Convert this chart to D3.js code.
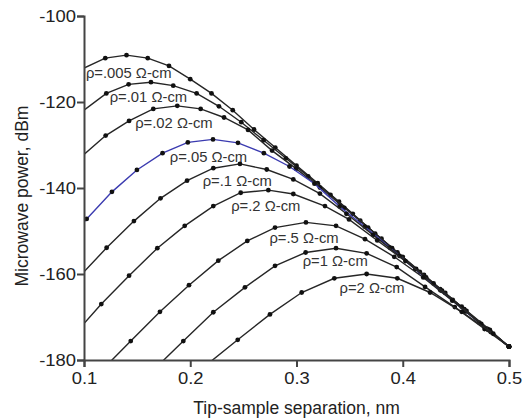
<!DOCTYPE html>
<html>
<head>
<meta charset="utf-8">
<script src="https://cdn.jsdelivr.net/npm/d3@7"></script>
<style>
  body { margin: 0; background: #fff; }
  svg { font-family: "Liberation Sans", Arial, sans-serif; display: block; }
</style>
</head>
<body>
<div id="chart"></div>
<script>
// ── Data ─────────────────────────────────────────────────────────────────
const xTicks = [0.1, 0.2, 0.3, 0.4, 0.5];
const xMinorTicks = [0.15, 0.25, 0.35, 0.45];
const yTicks = [-180, -160, -140, -120, -100];
const yMinorTicks = [-175, -170, -165, -155, -150, -145, -135, -130, -125, -115, -110, -105];

const curveLabels = [
  "ρ=.005 Ω-cm", "ρ=.01 Ω-cm", "ρ=.02 Ω-cm", "ρ=.05 Ω-cm", "ρ=.1 Ω-cm",
  "ρ=.2 Ω-cm", "ρ=.5 Ω-cm", "ρ=1 Ω-cm", "ρ=2 Ω-cm",
];

const x005 = [0.100, 0.120, 0.140, 0.160, 0.180, 0.200, 0.220, 0.240, 0.260, 0.280, 0.300, 0.320, 0.340, 0.360, 0.380, 0.400, 0.420, 0.440, 0.460, 0.480, 0.500];
const y005 = [-112.1, -109.8, -109.1, -109.8, -111.6, -114.7, -118.0, -121.9, -126.4, -130.6, -134.8, -138.9, -143.2, -147.6, -151.8, -156.0, -160.2, -164.4, -168.6, -172.8, -176.9];

const x01 = [0.100, 0.121, 0.142, 0.163, 0.184, 0.206, 0.227, 0.248, 0.269, 0.290, 0.311, 0.332, 0.353, 0.374, 0.395, 0.416, 0.437, 0.458, 0.479, 0.500];
const y01 = [-121.9, -118.0, -115.9, -115.4, -116.2, -118.0, -121.0, -124.7, -128.9, -133.1, -137.3, -141.6, -146.0, -150.6, -155.0, -159.5, -163.9, -168.3, -172.7, -176.9];

const x02 = [0.100, 0.1204, 0.1424, 0.1652, 0.1878, 0.2098, 0.2318, 0.2544, 0.277, 0.2996, 0.322, 0.345, 0.3674, 0.390, 0.4126, 0.4352, 0.4578, 0.4804, 0.500];
const y02 = [-132.2, -127.8, -124.4, -121.6, -120.9, -121.6, -123.6, -126.5, -131.3, -135.5, -139.9, -144.6, -149.2, -154.0, -158.8, -163.5, -168.2, -173.0, -176.9];

const x05 = [0.100, 0.1025, 0.1263, 0.1498, 0.1739, 0.1977, 0.2214, 0.2449, 0.2693, 0.2934, 0.3169, 0.3406, 0.3643, 0.388, 0.4117, 0.4354, 0.4591, 0.4828, 0.500];
const y05 = [-147.9, -147.2, -140.9, -135.8, -131.9, -129.4, -128.7, -129.5, -131.9, -135.0, -139.0, -144.3, -149.0, -153.9, -158.9, -163.8, -168.7, -173.5, -176.9];

const x1 = [0.100, 0.1213, 0.147, 0.172, 0.197, 0.2217, 0.2468, 0.272, 0.297, 0.322, 0.347, 0.372, 0.397, 0.422, 0.447, 0.472, 0.500];
const y1 = [-159.5, -153.9, -147.7, -142.4, -138.3, -135.4, -134.4, -135.7, -138.0, -141.3, -146.0, -150.9, -155.8, -160.8, -166.0, -171.3, -176.9];

const x2 = [0.100, 0.1163, 0.1424, 0.169, 0.1948, 0.2217, 0.2475, 0.2735, 0.297, 0.3268, 0.3494, 0.376, 0.4025, 0.429, 0.4555, 0.482, 0.500];
const y2 = [-171.5, -167.0, -160.4, -154.0, -148.8, -144.2, -141.1, -140.5, -141.4, -144.2, -147.3, -152.2, -157.0, -162.2, -167.6, -173.0, -176.9];

const x5 = [0.1167, 0.144, 0.1715, 0.1988, 0.2264, 0.2537, 0.2798, 0.3089, 0.3372, 0.3645, 0.392, 0.4193, 0.4466, 0.4739, 0.500];
const y5 = [-182.4, -175.6, -168.8, -162.6, -156.9, -152.3, -149.2, -148.0, -148.8, -151.9, -156.0, -160.8, -166.2, -171.6, -176.9];

const x10 = [0.1655, 0.1935, 0.2217, 0.2515, 0.2798, 0.3086, 0.3372, 0.366, 0.3943, 0.421, 0.449, 0.477, 0.500];
const y10 = [-182.3, -175.6, -168.9, -163.1, -158.1, -155.0, -154.0, -155.2, -158.4, -163.0, -167.7, -172.8, -176.9];

const x20 = [0.215, 0.2447, 0.275, 0.3049, 0.3356, 0.366, 0.3949, 0.4257, 0.4555, 0.4852, 0.500];
const y20 = [-181.2, -175.3, -169.4, -164.3, -161.0, -160.0, -161.0, -164.3, -168.8, -173.9, -176.9];

// label anchor (left edge of text, baseline) in data units
const labelX = [0.1018, 0.1242, 0.1482, 0.1807, 0.2117, 0.2385, 0.2745, 0.3058, 0.3405];
const labelY = [-114.5, -120.0, -126.0, -133.9, -139.5, -145.4, -152.8, -158.1, -164.5];

const curveX = [x005, x01, x02, x05, x1, x2, x5, x10, x20];
const curveY = [y005, y01, y02, y05, y1, y2, y5, y10, y20];
const curveColor = ["#262626", "#262626", "#262626", "#3b3bb0", "#262626", "#262626", "#262626", "#262626", "#262626"];

// ── SVG ──────────────────────────────────────────────────────────────────
const W = 524, H = 419;
const plot = { left: 84, right: 509, top: 16, bottom: 360 };

const svg = d3.select("#chart").append("svg")
  .attr("width", W).attr("height", H);

const x = d3.scaleLinear().domain([0.1, 0.5]).range([plot.left, plot.right]);
const y = d3.scaleLinear().domain([-180, -100]).range([plot.bottom, plot.top]);

svg.append("clipPath").attr("id", "clip")
  .append("rect")
  .attr("x", plot.left).attr("y", plot.top - 10)
  .attr("width", plot.right - plot.left + 10)
  .attr("height", plot.bottom - plot.top + 10);

// ── Curves ───────────────────────────────────────────────────────────────
const line = d3.line().x((d) => x(d[0])).y((d) => y(d[1]));
const curves = svg.append("g").attr("clip-path", "url(#clip)");

curveX.forEach((xs, i) => {
  const pts = xs.map((v, j) => [v, curveY[i][j]]);
  curves.append("path")
    .datum(pts)
    .attr("d", line)
    .attr("fill", "none")
    .attr("stroke", curveColor[i])
    .attr("stroke-width", 1.4);

  curves.selectAll(null)
    .data(pts.filter((d) => d[0] > 0.1001 && d[1] >= -180))
    .join("circle")
    .attr("cx", (d) => x(d[0]))
    .attr("cy", (d) => y(d[1]))
    .attr("r", 2.4)
    .attr("fill", "#111");
});

// ── Curve labels ─────────────────────────────────────────────────────────
svg.append("g").selectAll("text")
  .data(curveLabels)
  .join("text")
  .attr("x", (d, i) => x(labelX[i]))
  .attr("y", (d, i) => y(labelY[i]))
  .attr("font-size", 14.8)
  .attr("fill", "#333")
  .text((d) => d);

// ── Axes ─────────────────────────────────────────────────────────────────
const axisColor = "#444";

const gx = svg.append("g").attr("transform", `translate(0,${plot.bottom})`);
gx.call(d3.axisBottom(x).tickValues(xMinorTicks).tickSize(4).tickFormat(""));
gx.select(".domain").remove();
gx.call(d3.axisBottom(x).tickValues(xTicks).tickSizeOuter(0).tickSize(7).tickPadding(6)
  .tickFormat(d3.format(".1f")));

const gy = svg.append("g").attr("transform", `translate(${plot.left},0)`);
gy.call(d3.axisLeft(y).tickValues(yMinorTicks).tickSize(4).tickFormat(""));
gy.select(".domain").remove();
gy.call(d3.axisLeft(y).tickValues(yTicks).tickSizeOuter(0).tickSize(7)
  .tickFormat((d) => d));

[gx, gy].forEach((g) => {
  g.selectAll(".domain, line").attr("stroke", axisColor).attr("stroke-width", 2);
  g.selectAll("text").attr("font-size", 16).attr("fill", "#222")
    .attr("font-family", '"Liberation Sans", Arial, sans-serif');
});
gx.selectAll("text").attr("transform", "scale(1.15,1)");
gy.selectAll("text").attr("x", -8 / 1.15).attr("transform", "scale(1.15,1)");

// ── Axis titles ──────────────────────────────────────────────────────────
svg.append("text")
  .attr("x", (plot.left + plot.right) / 2)
  .attr("y", 414)
  .attr("text-anchor", "middle")
  .attr("font-size", 17.5)
  .attr("fill", "#222")
  .text("Tip-sample separation, nm");

svg.append("text")
  .attr("transform", "rotate(-90)")
  .attr("x", -196)
  .attr("y", 28)
  .attr("text-anchor", "middle")
  .attr("font-size", 17.5)
  .attr("fill", "#222")
  .text("Microwave power, dBm");
</script>
</body>
</html>
